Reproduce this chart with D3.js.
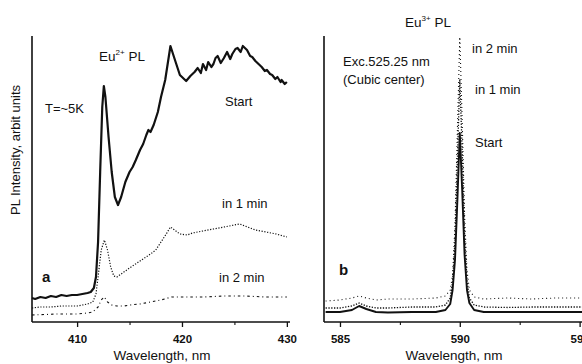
<!DOCTYPE html>
<html>
<head>
<meta charset="utf-8">
<script src="https://cdn.jsdelivr.net/npm/d3@7"></script>
<style>
  html, body { margin: 0; padding: 0; background: #fff; }
  svg { display: block; }
  text { font-family: "Liberation Sans", Arial, sans-serif; fill: #111; }
</style>
</head>
<body>
<svg id="chart" width="582" height="364"></svg>
<script>
// ---------- Data (panel a: Eu2+ PL, arbitrary units) ----------
const aStartX = [405.7,406,406.5,407,407.5,408,408.5,409,409.5,410,410.5,411,411.3,411.6,411.8,412,412.2,412.4,412.55,412.7,413,413.3,413.6,413.9,414.2,414.6,415,415.3,415.6,416,416.2,416.3,416.6,416.8,417,417.3,417.7,418,418.4,418.9,419.3,419.8,420.4,420.8,421.2,421.5,421.8,422,422.3,422.5,422.8,423,423.2,423.4,423.7,424,424.3,424.6,424.8,425.1,425.3,425.6,425.8,426.2,426.5,426.7,427,427.2,427.6,427.9,428.1,428.4,428.6,428.9,429.1,429.4,429.5,429.8,430];
const aStartY = [24,23,25,24,26,25,27,26,27,27,28,29,30,34,45,80,150,215,236,225,185,150,125,117,125,140,150,155,162,172,176,178,187,192,190,197,210,225,242,276,263,247,241,246,250,254,249,258,252,260,255,258,264,266,259,264,270,263,268,273,274,270,276,272,266,265,261,259,255,251,252,248,247,243,245,240,242,238,240];

const a1X = [405.7,406.5,407.5,408.5,409.5,410,410.5,411,411.5,411.8,412,412.3,412.6,412.9,413.2,413.5,413.8,414.2,415,416,417,417.5,418,418.5,418.9,419.3,419.8,420.5,421,422,423,424,425,425.5,426,427,428,429,430];
const a1Y = [14,15,15,16,16,16,17,18,20,28,45,72,82,72,55,46,45,48,54,61,68,72,80,88,95,92,88,87,89,91,93,95,97,98,96,92,90,88,85];

const a2X = [405.7,407,408,409,410,411,411.5,412,412.3,412.6,412.9,413.3,413.8,414.5,415,416,417,418,419,420,422,424,426,428,430];
const a2Y = [7,7.5,8,8,8,9,10,15,22,25,20,17,16,16,17,18,20,22,25,25,25,26,26,25,25];

// ---------- Data (panel b: Eu3+ PL, arbitrary units) ----------
const bX = [584.4,585,585.5,585.8,586.1,586.5,587,588,589,589.4,589.6,589.7,589.8,589.9,590,590.1,590.2,590.3,590.4,590.6,591,592,593,594,595.1];
const bStartY = [10,10,12,16,13,10,9.5,10,10,12,18,32,62,122,189,132,67,32,19,12,10,10,10,10,10];
const b1Y     = [14,14,16,19,16,14,14,15,15,17,24,40,82,162,242,172,87,42,24,17,15,14.5,15,15,15];
const b2Y     = [21,22,24,26,24,22,23,23,24,26,32,47,97,192,285,202,107,52,32,25,23,24,23,24,24];

const aTicksMajor = [410, 420, 430];
const aTicksMinor = [415, 425];
const bTicksMajor = [585, 590, 595];
const bTicksMinor = [587.5, 592.5];

// ---------- Chart ----------
const svg = d3.select("#chart");
svg.append("rect").attr("width", 582).attr("height", 364).attr("fill", "#fff");

const y = d3.scaleLinear().domain([0, 286]).range([322, 36]);
const xa = d3.scaleLinear().domain([405.7, 430.3]).range([32, 290]);
const xb = d3.scaleLinear().domain([584.375, 595.1]).range([325, 582]);

function drawPanel(x, major, minor, axisX0, axisX1) {
  const g = svg.append("g");
  const ax = g.append("g").attr("transform", "translate(0,322)")
    .call(d3.axisBottom(x).tickValues(major).tickFormat(d3.format("d")).tickSize(5).tickSizeOuter(0));
  ax.select(".domain").remove();
  ax.selectAll(".tick line").attr("stroke", "#111").attr("stroke-width", 1.3);
  ax.selectAll(".tick text")
    .attr("y", 13)
    .style("font-family", "'Liberation Sans Narrow', 'Liberation Sans', Arial, sans-serif")
    .style("font-size", "11.5px").style("font-weight", "bold").attr("fill", "#111");
  const axm = g.append("g").attr("transform", "translate(0,322)")
    .call(d3.axisBottom(x).tickValues(minor).tickFormat("").tickSize(3).tickSizeOuter(0));
  axm.select(".domain").remove();
  axm.selectAll(".tick line").attr("stroke", "#111").attr("stroke-width", 1.1);
  // axis lines
  g.append("line").attr("x1", axisX0).attr("x2", axisX1).attr("y1", 322).attr("y2", 322)
    .attr("stroke", "#111").attr("stroke-width", 1.6);
  g.append("line").attr("x1", axisX0).attr("x2", axisX0).attr("y1", 36).attr("y2", 322)
    .attr("stroke", "#111").attr("stroke-width", 1.6);
}
drawPanel(xa, aTicksMajor, aTicksMinor, 32, 290);
drawPanel(xb, bTicksMajor, bTicksMinor, 324, 582);

function series(x, xs, ys, opts) {
  const pts = xs.map((d, i) => [d, ys[i]]);
  const line = d3.line().x(d => x(d[0])).y(d => y(d[1]));
  const p = svg.append("path").datum(pts).attr("d", line)
    .attr("fill", "none").attr("stroke", "#111")
    .attr("stroke-width", opts.w).attr("stroke-linejoin", "round");
  if (opts.dash) p.attr("stroke-dasharray", opts.dash);
}
series(xa, a2X, a2Y, {w: 1.1, dash: "2.5,3,1,3"});
series(xa, a1X, a1Y, {w: 1.2, dash: "1.2,1.6"});
series(xa, aStartX, aStartY, {w: 2.2});

series(xb, bX, b2Y, {w: 1.1, dash: "1,3"});
series(xb, bX, b1Y, {w: 1.3, dash: "1.3,1.5"});
series(xb, bX, bStartY, {w: 1.9});

// ---------- Text ----------
function txt(x0, y0, s, size, weight, anchor) {
  return svg.append("text").attr("x", x0).attr("y", y0).text(s)
    .style("font-size", size + "px").style("font-weight", weight || "normal")
    .attr("text-anchor", anchor || "start");
}
function euLabel(x0, y0, sup) {
  const t = svg.append("text").attr("x", x0).attr("y", y0).style("font-size", "13.5px");
  t.append("tspan").text("Eu");
  t.append("tspan").attr("dy", -6).style("font-size", "8px").text(sup);
  t.append("tspan").attr("dy", 6).text(" PL");
}
euLabel(99, 61, "2+");
euLabel(405, 27, "3+");

txt(45, 113, "T=~5K", 13);
txt(225, 106, "Start", 13);
txt(222, 208, "in 1 min", 13);
txt(219, 282, "in 2 min", 13);
txt(42, 282, "a", 15, "bold");
txt(339, 275, "b", 15, "bold");

txt(343, 66, "Exc.525.25 nm", 13);
txt(343, 84, "(Cubic center)", 13);
txt(472, 53, "in 2 min", 13);
txt(475, 94, "in 1 min", 13);
txt(475, 147, "Start", 13);

txt(162, 360, "Wavelength, nm", 13.5, "normal", "middle");
txt(454, 360, "Wavelength, nm", 13.5, "normal", "middle");

svg.append("text").attr("transform", "translate(20,150) rotate(-90)")
  .attr("text-anchor", "middle").style("font-size", "13px").text("PL Intensity, arbit units");
</script>
</body>
</html>
